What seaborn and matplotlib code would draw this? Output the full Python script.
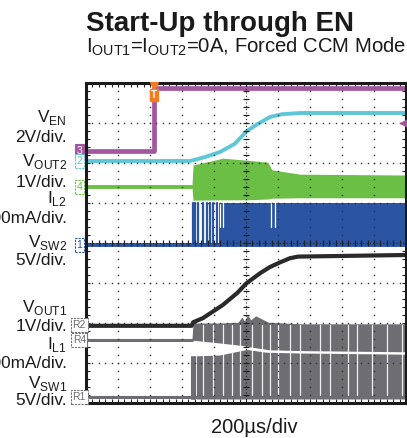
import numpy as np
import matplotlib
matplotlib.use('Agg')
import matplotlib.pyplot as plt
import seaborn as sns

# ------------------------------------------------------------
# scope data: time in us (200us/div), level in screen divisions (0..8)
# ------------------------------------------------------------
t_en = [0, 425, 425, 2000]
v_en = [6.30, 6.30, 7.875, 7.875]

t_vout2 = [0, 650, 745, 840, 930, 1005, 1075, 1150, 1225, 1340, 2000]
v_vout2 = [6.05, 6.05, 6.15, 6.28, 6.48, 6.80, 6.98, 7.15, 7.22, 7.25, 7.25]

t_il2_flat = [0, 662]
v_il2_flat = [5.40, 5.40]
t_il2_band = [662, 669, 856, 1006, 1137, 1162, 1338, 2000]
il2_top = [5.40, 5.95, 6.12, 6.07, 6.02, 5.83, 5.72, 5.70]
il2_bot = [5.40, 5.07, 5.08, 5.08, 5.10, 5.12, 5.13, 5.13]

t_sw2 = [0, 2000]
v_sw2 = [3.95, 3.95]
sw2_top = 5.0
sw2_spikes = [668, 681, 700, 731, 756, 775, 794, 819]
sw2_solid_start = 831
sw2_gaps = [838, 856, 1156, 1181]

t_vout1 = [0, 660, 670, 730, 855, 945, 1005, 1090, 1150, 1215, 1275, 1325, 2000]
v_vout1 = [1.93, 1.93, 2.02, 2.12, 2.45, 2.75, 3.0, 3.25, 3.4, 3.52, 3.62, 3.66, 3.70]

t_il1_flat = [0, 662]
v_il1_flat = [1.575, 1.575]
t_il1_band = [662, 669, 835, 950, 975, 990, 1010, 1030, 1060, 1100, 1140, 1340, 2000]
il1_top = [1.575, 2.0, 2.0, 2.02, 2.15, 2.05, 2.2, 2.08, 2.18, 2.1, 2.02, 1.98, 1.98]
il1_bot = [1.575, 1.57, 1.50, 1.45, 1.44, 1.43, 1.42, 1.40, 1.38, 1.36, 1.33, 1.31, 1.28]

t_sw1_flat = [0, 2000]
v_sw1_flat = [0.15, 0.15]
t_sw1_band = [690, 835, 1006, 1125, 1338, 2000]
sw1_top = [1.18, 1.20, 1.34, 1.27, 1.25, 1.22]
sw1_spikes = [662, 672, 680]
grey_gaps = [731, 794, 856, 913, 963, 1038, 1100, 1150, 1200, 1275, 1338,
             1463, 1525, 1638, 1694, 1788, 1881, 1975]

labels = [r"V$_{\rm EN}$", "2V/div.", r"V$_{\rm OUT2}$", "1V/div.",
          r"I$_{\rm L2}$", "500mA/div.", r"V$_{\rm SW2}$", "5V/div.",
          r"V$_{\rm OUT1}$", "1V/div.", r"I$_{\rm L1}$", "500mA/div.",
          r"V$_{\rm SW1}$", "5V/div."]
label_y = [7.025, 6.525, 5.925, 5.4, 5.0, 4.5, 3.9, 3.45,
           2.275, 1.8, 1.35, 0.875, 0.375, -0.05]

ch_marks = ["3", "2", "4", "1", "R2", "R4", "R1"]
ch_level = [6.30, 6.05, 5.40, 3.95, 1.95, 1.575, 0.15]

# ------------------------------------------------------------
sns.set_theme(style="white")
plt.rcParams['font.family'] = ['Liberation Sans', 'DejaVu Sans']
plt.rcParams['mathtext.fontset'] = 'custom'
plt.rcParams['mathtext.rm'] = 'Liberation Sans'

PURPLE = '#a3579f'
CYAN = '#5ec7d7'
GREEN = '#6cbf45'
BLUE = '#2b55a2'
DARK = '#2a2a2a'
GREY = '#6e6e72'
ORANGE = '#f37c20'

fig = plt.figure(figsize=(4.07, 4.38), dpi=100)
ax = fig.add_axes([86 / 407, 35 / 438, 320 / 407, 320 / 438])
ax.set_xlim(0, 2000)
ax.set_ylim(0, 8)

# grey channels (ch1 side)
ax.fill_between(t_sw1_band, 0.1, sw1_top, color=GREY, lw=0, zorder=2)
for t in sw1_spikes:
    ax.plot([t, t], [0.1, 1.15], color=GREY, lw=1.5, zorder=2)
ax.fill_between(t_il1_band, il1_bot, il1_top, color=GREY, lw=0, zorder=2)
for t in grey_gaps:
    ax.plot([t, t], [0.2, 1.95], color='white', lw=0.9, alpha=0.9, zorder=3)
sns.lineplot(x=t_sw1_flat, y=v_sw1_flat, ax=ax, color=GREY, lw=2.2,
             estimator=None, sort=False, zorder=2)
sns.lineplot(x=t_il1_flat, y=v_il1_flat, ax=ax, color=GREY, lw=2.2,
             estimator=None, sort=False, zorder=2)
sns.lineplot(x=t_vout1, y=v_vout1, ax=ax, color=DARK, lw=3.0,
             estimator=None, sort=False, zorder=4)

# ch2 side
ax.fill_between([sw2_solid_start, 2000], v_sw2[0], sw2_top, color=BLUE, lw=0, zorder=2)
for t in sw2_spikes:
    ax.plot([t, t], [v_sw2[0], sw2_top], color=BLUE, lw=1.6, zorder=2)
for t in sw2_gaps:
    ax.plot([t, t], [4.4, sw2_top], color='white', lw=0.9, zorder=3)
sns.lineplot(x=t_sw2, y=v_sw2, ax=ax, color=BLUE, lw=2.8,
             estimator=None, sort=False, zorder=3)

ax.fill_between(t_il2_band, il2_bot, il2_top, color=GREEN, lw=0, zorder=2)
sns.lineplot(x=t_il2_flat, y=v_il2_flat, ax=ax, color=GREEN, lw=2.8,
             estimator=None, sort=False, zorder=2)
sns.lineplot(x=t_vout2, y=v_vout2, ax=ax, color=CYAN, lw=2.8,
             estimator=None, sort=False, zorder=4)
sns.lineplot(x=t_en, y=v_en, ax=ax, color=PURPLE, lw=3.4,
             estimator=None, sort=False, zorder=4)

# graticule dots
for k in range(1, 10):
    if k == 5:
        continue
    ys = np.arange(0.2, 8, 0.2)
    ax.plot(np.full(len(ys), k * 200), ys, ls='none', marker='s', ms=1.0,
            color='#333333', mew=0, zorder=6)
for k in range(1, 8):
    if k == 4:
        continue
    xs = np.arange(40, 2000, 40)
    ax.plot(xs, np.full(len(xs), k), ls='none', marker='s', ms=1.0,
            color='#333333', mew=0, zorder=6)
# centre cross
ax.plot([1000, 1000], [0, 8], color='#222222', lw=0.8, ls=(0, (1, 2)), zorder=6)
ax.plot([0, 2000], [4, 4], color='#222222', lw=0.8, ls=(0, (1, 2)), zorder=6)
yt = np.arange(0.2, 8, 0.2)
ax.plot(np.full(len(yt), 1000), yt, ls='none', marker='_', ms=4, mew=0.9,
        color='#222222', zorder=6)
xt = np.arange(40, 2000, 40)
ax.plot(xt, np.full(len(xt), 4), ls='none', marker='|', ms=4, mew=0.9,
        color='#222222', zorder=6)

ax.set_xticks(np.arange(0, 2001, 40))
ax.set_yticks(np.arange(0, 8.01, 0.2))
ax.tick_params(direction='in', length=3, width=0.8, color='#222222',
               top=True, right=True, bottom=True, left=True,
               labelbottom=False, labelleft=False)
for sp in ax.spines.values():
    sp.set_linewidth(2.2)
    sp.set_color('#1a1a1a')
    sp.set_zorder(7)

# trigger markers
ax.scatter([425], [7.93], marker='v', s=30, color=ORANGE, clip_on=False, zorder=8)
ax.text(425, 7.70, 'T', ha='center', va='center', fontsize=7, color='white',
        fontweight='bold', zorder=8,
        bbox=dict(boxstyle='square,pad=0.15', fc=ORANGE, ec=ORANGE))
ax.scatter([1985], [7.0], marker='<', s=34, color=PURPLE, clip_on=False, zorder=8)

# channel markers on the left edge
mark_col = [PURPLE, CYAN, GREEN, BLUE, GREY, GREY, GREY]
for i, (m, lev) in enumerate(zip(ch_marks, ch_level)):
    filled = i == 0
    ax.text(-42, lev, m, ha='center', va='center', fontsize=7.5,
            color='white' if filled else mark_col[i], clip_on=False, zorder=8,
            bbox=dict(boxstyle='square,pad=0.15', fc=mark_col[i] if filled else 'white',
                      ec=mark_col[i], lw=0.8, ls='-' if filled else (0, (2, 1))))

for txt, y in zip(labels, label_y):
    ax.text(-119, y, txt, ha='right', va='baseline', fontsize=12.4,
            color='#1a1a1a', clip_on=False)

fig.text(86 / 407, 1 - 31 / 438, "Start-Up through EN", fontsize=20,
         fontweight='bold', color='#1a1a1a', ha='left', va='baseline')
fig.text(86 / 407, 1 - 53 / 438, r"I$_{\rm OUT1}$=I$_{\rm OUT2}$=0A, Forced CCM Mode",
         fontsize=14.6, color='#1a1a1a', ha='left', va='baseline')
fig.text(254 / 407, 1 - 433 / 438, "200µs/div", fontsize=14.5,
         color='#1a1a1a', ha='center', va='baseline')

fig.savefig('out.png', dpi=100)
